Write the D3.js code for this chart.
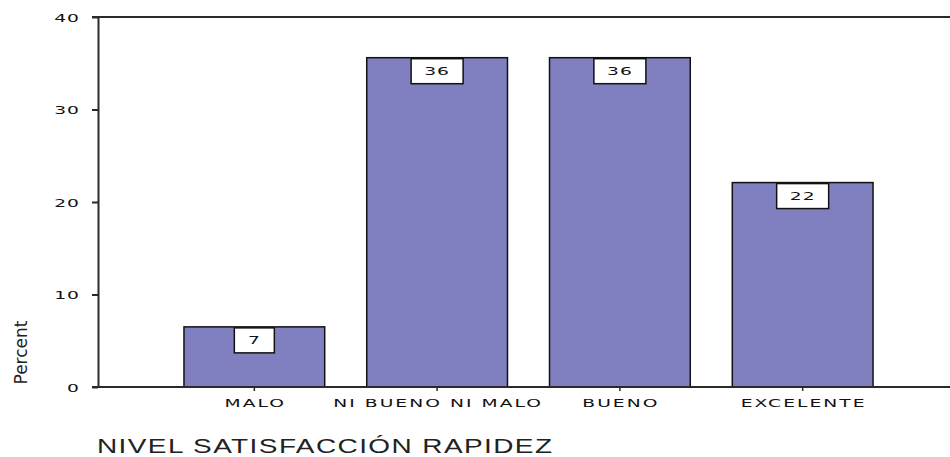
<!DOCTYPE html>
<html>
<head>
<meta charset="utf-8">
<script src="https://cdn.jsdelivr.net/npm/d3@7"></script>
<style>
  body { margin: 0; background: #fff; }
  svg { display: block; }
</style>
</head>
<body>
<svg id="chart" width="950" height="457"></svg>
<script>
// Satisfaction with speed of service, percent of respondents per level
const categories = ["MALO", "NI BUENO NI MALO", "BUENO", "EXCELENTE"];
const percents = [6.5, 35.6, 35.6, 22.1];
const yTicks = [0, 10, 20, 30, 40];
const xTitle = "NIVEL SATISFACCIÓN RAPIDEZ";
const yTitle = "Percent";

const width = 950;
const ink = "#2a2a2a";
const barFill = "#8080c0";
const smallFont = "'DejaVu Sans', sans-serif";
const stretch = 1.7; // horizontal widening of the small lettering

const svg = d3.select("#chart");

const x = d3.scaleBand()
  .domain(categories)
  .range([120, 937])
  .paddingInner(0.23)
  .paddingOuter(0.35);

const y = d3.scaleLinear().domain([0, 40]).range([387, 17]);

const left = 98;

// bars
svg.append("g")
  .selectAll("rect")
  .data(categories.map((c, i) => ({ c, v: percents[i] })))
  .join("rect")
  .attr("x", d => x(d.c))
  .attr("y", d => y(d.v))
  .attr("width", x.bandwidth())
  .attr("height", d => y(0) - y(d.v))
  .attr("fill", barFill)
  .attr("stroke", "#111")
  .attr("stroke-width", 1.5);

// value boxes sitting at the top of each bar
const labels = svg.append("g")
  .selectAll("g")
  .data(categories.map((c, i) => ({ c, v: percents[i], t: String(Math.round(percents[i])) })))
  .join("g")
  .attr("transform", d => `translate(${x(d.c) + x.bandwidth() / 2},${y(d.v) + 1})`);

labels.append("rect")
  .attr("x", d => -(28 + 12 * d.t.length) / 2)
  .attr("y", 0)
  .attr("width", d => 28 + 12 * d.t.length)
  .attr("height", 25)
  .attr("fill", "#fff")
  .attr("stroke", "#111")
  .attr("stroke-width", 1.5);

labels.append("text")
  .attr("transform", `translate(0,16) scale(${stretch},1)`)
  .attr("text-anchor", "middle")
  .attr("font-family", smallFont)
  .attr("font-size", 11)
  .attr("letter-spacing", 0.6)
  .attr("fill", "#111")
  .text(d => d.t);

// y axis
const yAxis = svg.append("g")
  .attr("transform", `translate(${left},0)`)
  .call(d3.axisLeft(y).tickValues(yTicks).tickSize(6).tickSizeOuter(0));
yAxis.select(".domain").attr("stroke", ink).attr("stroke-width", 2);
yAxis.selectAll(".tick line").attr("stroke", ink).attr("stroke-width", 2);
yAxis.selectAll(".tick text")
  .attr("x", null)
  .attr("dy", null)
  .attr("transform", `translate(-18,4) scale(${stretch},1)`)
  .attr("font-family", smallFont)
  .attr("font-size", 11)
  .attr("letter-spacing", 0.6)
  .attr("fill", "#111");

// x axis
const xAxis = svg.append("g")
  .attr("transform", `translate(0,${y(0)})`)
  .call(d3.axisBottom(x).tickSize(4).tickSizeOuter(0));
xAxis.select(".domain").remove();
xAxis.selectAll(".tick line").attr("stroke", ink).attr("stroke-width", 1.5);
xAxis.selectAll(".tick text")
  .attr("y", null)
  .attr("dy", null)
  .attr("transform", `translate(1,20) scale(${stretch},1)`)
  .attr("font-family", smallFont)
  .attr("font-size", 11)
  .attr("letter-spacing", 1.2)
  .attr("fill", "#111");

// frame lines at the bottom and top of the value range
svg.append("g")
  .selectAll("line")
  .data([0, 40])
  .join("line")
  .attr("x1", left - 6)
  .attr("x2", width)
  .attr("y1", d => y(d))
  .attr("y2", d => y(d))
  .attr("stroke", ink)
  .attr("stroke-width", 2);

// axis titles
svg.append("text")
  .attr("transform", "translate(97,453) scale(1.4,1)")
  .attr("font-family", "'Liberation Sans', Arial, sans-serif")
  .attr("font-size", 20)
  .attr("letter-spacing", 1)
  .attr("fill", "#222")
  .text(xTitle);

svg.append("text")
  .attr("transform", `translate(27,${(318 + 387) / 2}) rotate(-90)`)
  .attr("text-anchor", "middle")
  .attr("font-family", smallFont)
  .attr("font-size", 17)
  .attr("fill", "#222")
  .text(yTitle);
</script>
</body>
</html>
